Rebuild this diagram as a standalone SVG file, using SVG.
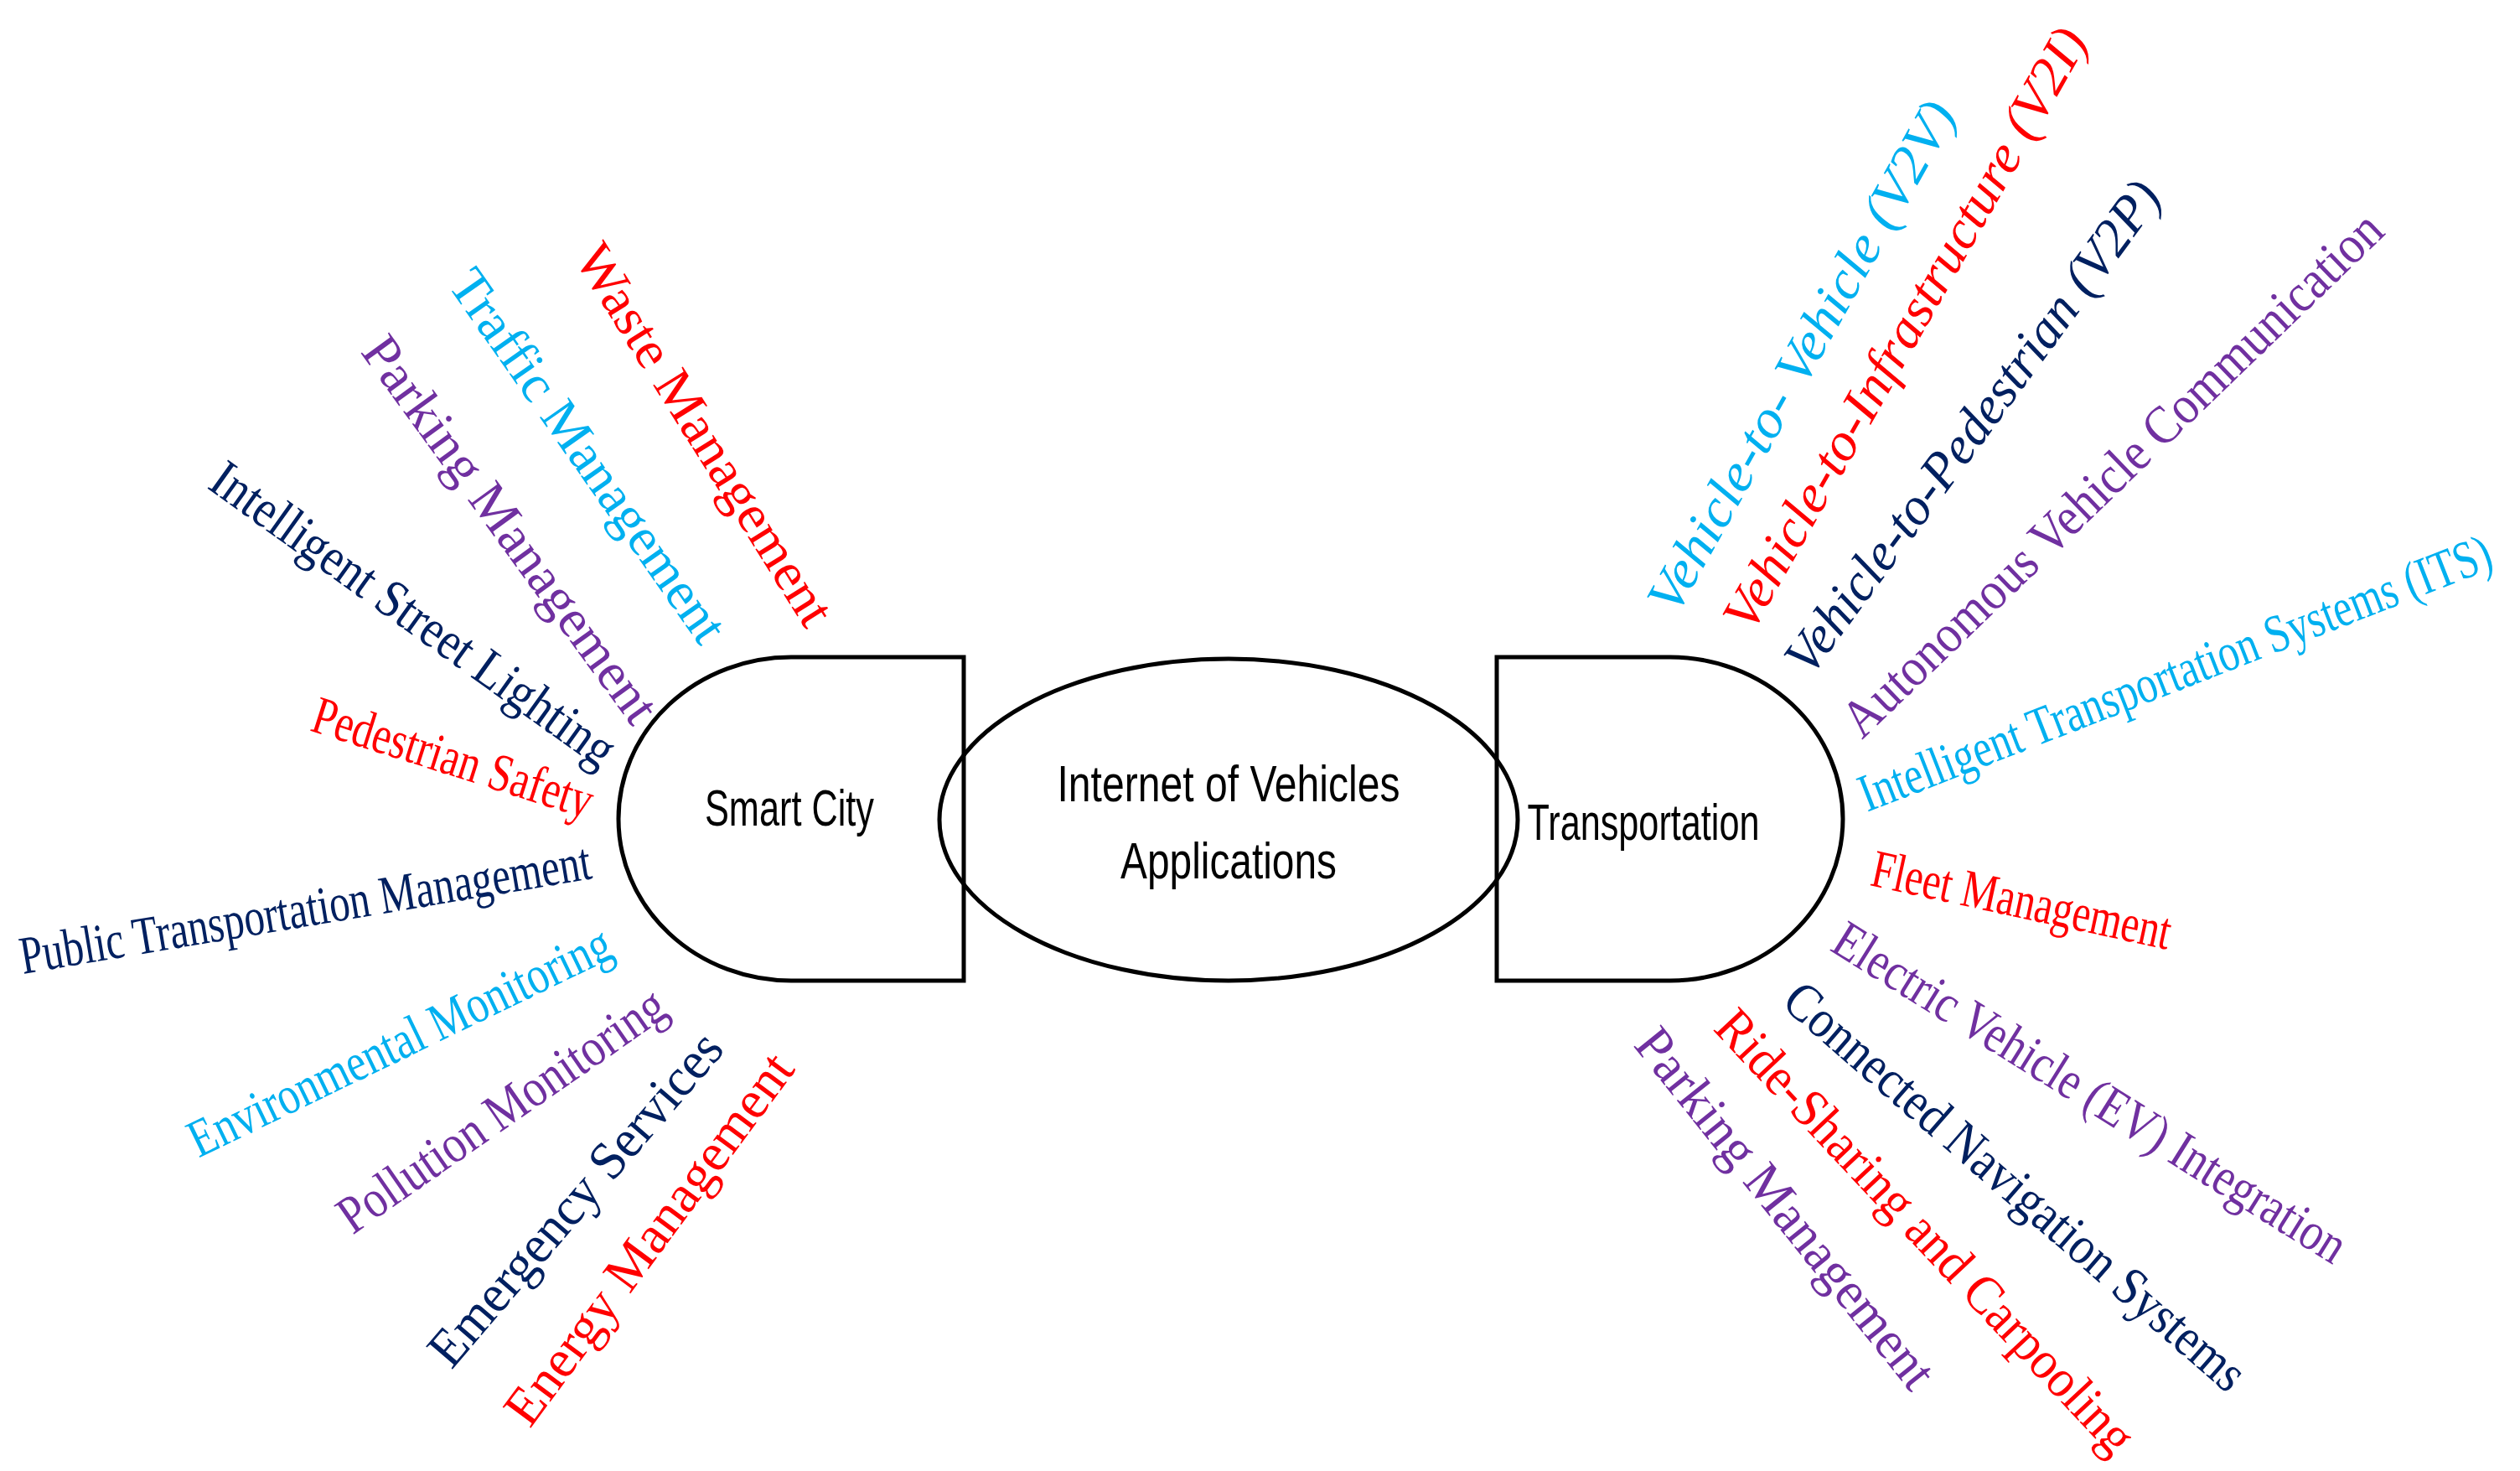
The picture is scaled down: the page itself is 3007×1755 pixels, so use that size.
<svg xmlns="http://www.w3.org/2000/svg" width="3007" height="1755" viewBox="0 0 3007 1755">
<style>
.sh{fill:none;stroke:#000;stroke-width:5}
.n{font-family:"Liberation Sans",Arial,sans-serif;font-size:62px;fill:#000;text-anchor:middle}
.l{font-family:"Liberation Serif","Times New Roman",serif;font-size:64px}
.e{text-anchor:end}.s{text-anchor:start}.i{font-style:italic}
.r{fill:#FF0000}.c{fill:#00B0F0}.p{fill:#7030A0}.b{fill:#002060}
</style>
<rect width="3007" height="1755" fill="#fff"/>
<g id="smart-city"><path class="sh" d="M944,784 H1150 V1170 H944 A206,193 0 0 1 944,784 Z"/><text class="n" x="942" y="985" textLength="202" lengthAdjust="spacingAndGlyphs">Smart City</text></g>
<g id="iov"><ellipse class="sh" cx="1466" cy="978" rx="345" ry="192"/><text class="n" x="1466" y="956" textLength="409" lengthAdjust="spacingAndGlyphs">Internet of Vehicles</text><text class="n" x="1466" y="1048" textLength="258" lengthAdjust="spacingAndGlyphs">Applications</text></g>
<g id="transportation"><path class="sh" d="M1993,784 H1786 V1170 H1993 A206,193 0 0 0 1993,784 Z"/><text class="n" x="1961" y="1002" textLength="277" lengthAdjust="spacingAndGlyphs">Transportation</text></g>
<g id="connectors"></g>
<g id="smart-city-items">
<text class="l e r" transform="translate(962,752) rotate(58)" textLength="524" lengthAdjust="spacingAndGlyphs">Waste Management</text>
<text class="l e c" transform="translate(836,772) rotate(55)" textLength="528" lengthAdjust="spacingAndGlyphs">Traffic Management</text>
<text class="l e p" transform="translate(755,868) rotate(54)" textLength="554" lengthAdjust="spacingAndGlyphs">Parking Management</text>
<text class="l e b" transform="translate(716,918) rotate(35.6)" textLength="578" lengthAdjust="spacingAndGlyphs">Intelligent Street Lighting</text>
<text class="l e r" transform="translate(700,977) rotate(17.7)" textLength="348" lengthAdjust="spacingAndGlyphs">Pedestrian Safety</text>
<text class="l e b" transform="translate(708,1048) rotate(-9.5)" textLength="690" lengthAdjust="spacingAndGlyphs">Public Transportation Management</text>
<text class="l e c" transform="translate(735,1141) rotate(-25.8)" textLength="553" lengthAdjust="spacingAndGlyphs">Environmental Monitoring</text>
<text class="l e p" transform="translate(800,1210) rotate(-34.8)" textLength="462" lengthAdjust="spacingAndGlyphs">Pollution Monitoring</text>
<text class="l e b" transform="translate(866,1253) rotate(-49.4)" textLength="503" lengthAdjust="spacingAndGlyphs">Emergency Services</text>
<text class="l e r" transform="translate(950,1276) rotate(-53.5)" textLength="534" lengthAdjust="spacingAndGlyphs">Energy Management</text>
</g>
<g id="transportation-items">
<text class="l s i c" transform="translate(2000,736) rotate(-60.8)" textLength="688" lengthAdjust="spacingAndGlyphs">Vehicle-to- Vehicle (V2V)</text>
<text class="l s i r" transform="translate(2090,757) rotate(-60.4)" textLength="815" lengthAdjust="spacingAndGlyphs">Vehicle-to-Infrastructure (V2I)</text>
<text class="l s i b" transform="translate(2160,809) rotate(-53.7)" textLength="712" lengthAdjust="spacingAndGlyphs">Vehicle-to-Pedestrian (V2P)</text>
<text class="l s p" transform="translate(2222,883) rotate(-44)" textLength="870" lengthAdjust="spacingAndGlyphs">Autonomous Vehicle Communication</text>
<text class="l s c" transform="translate(2228,969) rotate(-21.3)" textLength="805" lengthAdjust="spacingAndGlyphs">Intelligent Transportation Systems (ITS)</text>
<text class="l s r" transform="translate(2230,1056) rotate(12.2)" textLength="364" lengthAdjust="spacingAndGlyphs">Fleet Management</text>
<text class="l s p" transform="translate(2182,1133) rotate(32)" textLength="710" lengthAdjust="spacingAndGlyphs">Electric Vehicle (EV) Integration</text>
<text class="l s b" transform="translate(2124,1199) rotate(41)" textLength="708" lengthAdjust="spacingAndGlyphs">Connected Navigation Systems</text>
<text class="l s r" transform="translate(2043,1228) rotate(46.9)" textLength="700" lengthAdjust="spacingAndGlyphs">Ride-Sharing and Carpooling</text>
<text class="l s p" transform="translate(1948,1247) rotate(51.3)" textLength="532" lengthAdjust="spacingAndGlyphs">Parking Management</text>
</g>
</svg>
